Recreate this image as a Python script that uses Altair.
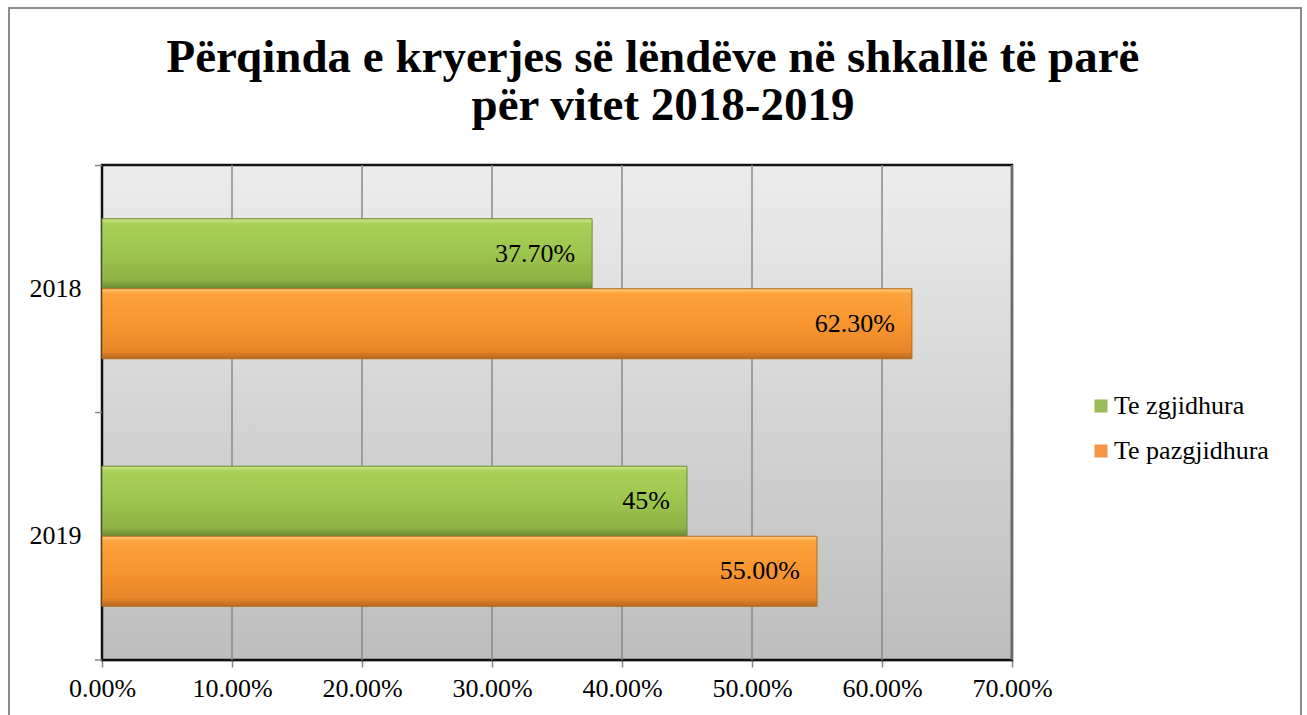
import altair as alt
import pandas as pd

title_lines = ["Përqinda e kryerjes së lëndëve në shkallë të parë", "për vitet 2018-2019"]
years = ["2018", "2019"]
series = ["Te zgjidhura", "Te pazgjidhura"]
zgjidhura = [0.377, 0.45]
pazgjidhura = [0.623, 0.55]
labels_z = ["37.70%", "45%"]
labels_p = ["62.30%", "55.00%"]
x_ticks = [0.0, 0.1, 0.2, 0.3, 0.4, 0.5, 0.6, 0.7]
colors = ["#9bbb59", "#f79646"]

rows = []
for i, y in enumerate(years):
    rows.append({"year": y, "series": series[0], "value": zgjidhura[i], "label": labels_z[i]})
    rows.append({"year": y, "series": series[1], "value": pazgjidhura[i], "label": labels_p[i]})
df = pd.DataFrame(rows)
grid_df = pd.DataFrame({"t": x_ticks[1:]})

W, H = 910, 495
FONT = "Liberation Serif"

xs = alt.Scale(domain=[0, 0.7], nice=False, zero=True)
ys = alt.Scale(domain=years, paddingInner=0.4343, paddingOuter=0.2172)
yo = alt.Scale(domain=series, paddingInner=0, paddingOuter=0)

X = alt.X("value:Q", scale=xs, axis=alt.Axis(values=x_ticks, format=".2%", title=None,
                                             labelFlush=False, labelOverlap=False))
Y = alt.Y("year:N", scale=ys, axis=alt.Axis(title=None, ticks=False))
YO = alt.YOffset("series:N", scale=yo)

bg = alt.Chart(alt.Data(values=[{}])).mark_rect(
    color=alt.Gradient(
        gradient="linear", x1=0, y1=0, x2=0, y2=1,
        stops=[alt.GradientStop(offset=0, color="#ececec"),
               alt.GradientStop(offset=1, color="#bdbdbd")]),
    stroke="#111111", strokeWidth=2.5
).encode(x=alt.value(0), x2=alt.value("width"), y=alt.value(0), y2=alt.value("height"))

grid = alt.Chart(grid_df).mark_rule(color="#8a8a8a", strokeWidth=1.5).encode(
    x=alt.X("t:Q", scale=xs), y=alt.value(0), y2=alt.value("height"))

# category boundary ticks on the y axis (Excel style)
yt = [alt.Chart(alt.Data(values=[{}])).mark_rule(color="#878787", strokeWidth=1.5).encode(
    x=alt.value(-7), x2=alt.value(0), y=alt.value(v)) for v in (0.5, H / 2, H)]

base = alt.Chart(df).mark_bar(strokeWidth=0).encode(
    x=X, y=Y, yOffset=YO,
    color=alt.Color("series:N", scale=alt.Scale(domain=series, range=colors),
                    legend=alt.Legend(title=None, orient="none", legendX=986, legendY=228,
                                      symbolType="square", symbolSize=170,
                                      symbolStrokeWidth=0,
                                      labelFont=FONT, labelFontSize=26, labelColor="black",
                                      rowPadding=19, labelOffset=0, labelLimit=400)))

def grad_layer(name, stops, stroke):
    return alt.Chart(df).transform_filter(alt.datum.series == name).mark_bar(
        color=alt.Gradient(gradient="linear", x1=0, y1=0, x2=0, y2=1,
                           stops=[alt.GradientStop(offset=o, color=c) for o, c in stops]),
        stroke=stroke, strokeWidth=1
    ).encode(x=X, y=Y, yOffset=YO)

g_green = grad_layer(series[0], [(0, "#cde88a"), (0.07, "#a9d158"), (0.5, "#9cc54d"),
                                 (0.88, "#8db245"), (1, "#6a8832")], "#6f8d36")
g_orange = grad_layer(series[1], [(0, "#ffd07a"), (0.07, "#fda23c"), (0.5, "#f7952f"),
                                  (0.88, "#e9862a"), (1, "#b8691d")], "#b36a20")

text = alt.Chart(df).mark_text(align="right", baseline="middle", dx=-17,
                               font=FONT, fontSize=26, color="black").encode(
    x=X, y=Y, yOffset=YO, text="label:N")

t1 = alt.Chart(alt.Data(values=[{"t": title_lines[0]}])).mark_text(
    font=FONT, fontSize=47, fontWeight="bold", color="black", align="center",
    baseline="alphabetic").encode(x=alt.value(551), y=alt.value(-93), text="t:N")
t2 = alt.Chart(alt.Data(values=[{"t": title_lines[1]}])).mark_text(
    font=FONT, fontSize=47, fontWeight="bold", color="black", align="center",
    baseline="alphabetic").encode(x=alt.value(561), y=alt.value(-45), text="t:N")

frame = alt.Chart(alt.Data(values=[{}])).mark_rect(
    filled=False, stroke="#8c8c8c", strokeWidth=2).encode(
    x=alt.value(-93), x2=alt.value(1199), y=alt.value(-157), y2=alt.value(600))

chart = alt.layer(bg, grid, *yt, base, g_green, g_orange, text, t1, t2, frame).properties(
    width=W, height=H, background="white",
    padding={"left": 102, "top": 165, "right": 1307 - 102 - W, "bottom": 715 - 165 - H},
    autosize=alt.AutoSizeParams(type="none"),
).configure_view(stroke=None).configure_axis(
    labelFont=FONT, labelFontSize=26, labelColor="black",
    domainColor="#878787", domainWidth=1.5, tickColor="#878787", tickWidth=1.5,
    tickSize=7, grid=False, zindex=1
).configure_axisX(labelPadding=8).configure_axisY(labelPadding=21)

chart.save("out.html", embed_options={"renderer": "svg", "actions": False})
